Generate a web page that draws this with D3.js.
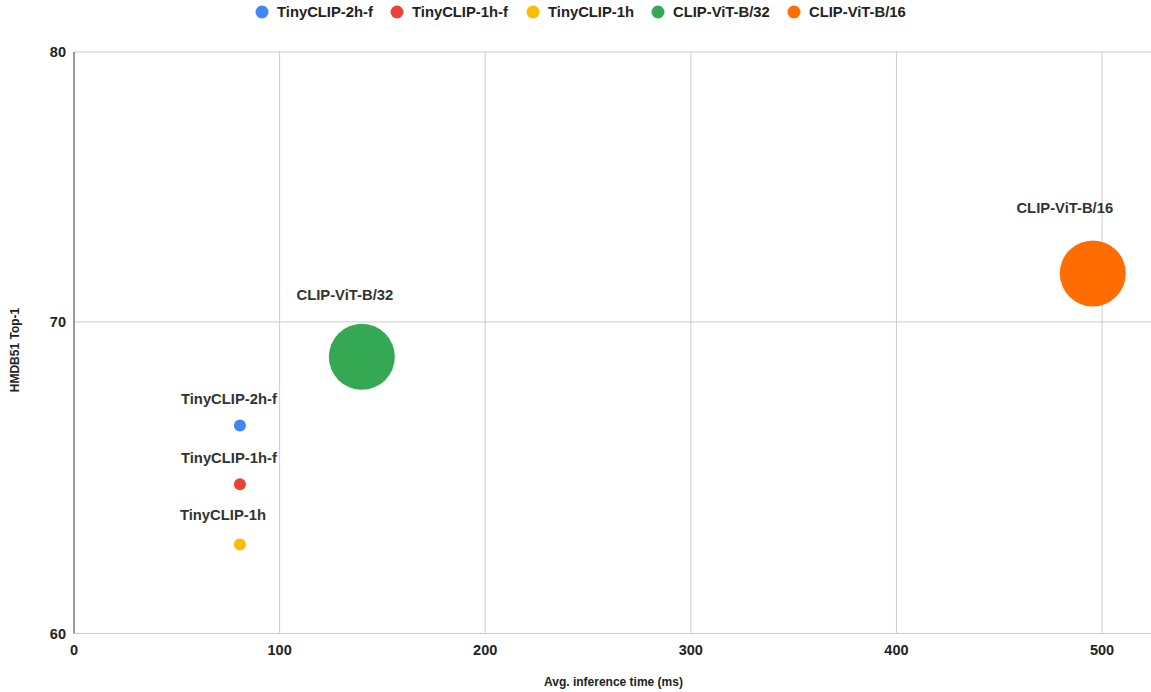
<!DOCTYPE html>
<html>
<head>
<meta charset="utf-8">
<script src="https://cdn.jsdelivr.net/npm/d3@7"></script>
<style>
  body { margin: 0; background: #fff; }
  text { font-family: "Liberation Sans", Arial, sans-serif; }
</style>
</head>
<body>
<svg width="1151" height="692"></svg>
<script>
var models = ["TinyCLIP-2h-f", "TinyCLIP-1h-f", "TinyCLIP-1h", "CLIP-ViT-B/32", "CLIP-ViT-B/16"];
var inferenceMs = [80.7, 80.7, 80.7, 140, 495.5];
var top1 = [66.5, 64.6, 62.7, 68.8, 71.7];
var sizes = [8, 8, 8, 88, 88];
var colors = ["#4285f4", "#ea4335", "#fbbc04", "#34a853", "#ff6d01"];
var xTicks = [0, 100, 200, 300, 400, 500];
var yTicks = [60, 70, 80];
// label placement relative to bubble centre
var labelDx = [-11, -11, -17, -17, -28];
var labelDy = [-22, -21, -25, -57, -60];

var svg = d3.select("svg"),
    width = +svg.attr("width"),
    height = +svg.attr("height");

var margin = {left: 74, right: 0, top: 52, bottom: 58.5};

var x = d3.scaleLinear()
    .domain([0, 523.8])
    .range([margin.left, width - margin.right]);

var y = d3.scaleLog()
    .domain([60, 80])
    .range([height - margin.bottom, margin.top]);

var r = d3.scaleLinear()
    .domain([d3.min(sizes), d3.max(sizes)])
    .range([6, 33]);

// grid
svg.append("g")
  .selectAll("line")
  .data(xTicks.slice(1))
  .enter().append("line")
    .attr("x1", d => x(d)).attr("x2", d => x(d))
    .attr("y1", y(80)).attr("y2", y(60))
    .attr("stroke", "#cccccc");

svg.append("g")
  .selectAll("line")
  .data(yTicks)
  .enter().append("line")
    .attr("x1", margin.left).attr("x2", width)
    .attr("y1", d => y(d)).attr("y2", d => y(d))
    .attr("stroke", "#cccccc");

// left axis line
svg.append("line")
    .attr("x1", margin.left).attr("x2", margin.left)
    .attr("y1", y(80)).attr("y2", y(60))
    .attr("stroke", "#333333");

// tick labels
svg.append("g")
  .selectAll("text")
  .data(yTicks)
  .enter().append("text")
    .attr("x", margin.left - 8)
    .attr("y", d => y(d) + 5)
    .attr("text-anchor", "end")
    .attr("font-size", 14.5)
    .attr("font-weight", "bold")
    .attr("fill", "#222")
    .text(d => d);

svg.append("g")
  .selectAll("text")
  .data(xTicks)
  .enter().append("text")
    .attr("x", d => x(d))
    .attr("y", y(60) + 21)
    .attr("text-anchor", "middle")
    .attr("font-size", 14.5)
    .attr("font-weight", "bold")
    .attr("fill", "#222")
    .text(d => d);

// axis titles
svg.append("text")
    .attr("x", (margin.left + width) / 2 + 1)
    .attr("y", 686)
    .attr("text-anchor", "middle")
    .attr("font-size", 12)
    .attr("font-weight", "bold")
    .attr("fill", "#222")
    .text("Avg. inference time (ms)");

svg.append("text")
    .attr("transform", "translate(19," + 350 + ") rotate(-90)")
    .attr("text-anchor", "middle")
    .attr("font-size", 12)
    .attr("font-weight", "bold")
    .attr("fill", "#222")
    .text("HMDB51 Top-1");

var data = models.map((m, i) => ({
  name: m, x: inferenceMs[i], y: top1[i], size: sizes[i], color: colors[i],
  dx: labelDx[i], dy: labelDy[i]
}));

// bubbles
svg.append("g")
  .selectAll("circle")
  .data(data)
  .enter().append("circle")
    .attr("cx", d => x(d.x))
    .attr("cy", d => y(d.y))
    .attr("r", d => r(d.size))
    .attr("fill", d => d.color);

// bubble labels
svg.append("g")
  .selectAll("text")
  .data(data)
  .enter().append("text")
    .attr("x", d => x(d.x) + d.dx)
    .attr("y", d => y(d.y) + d.dy)
    .attr("text-anchor", "middle")
    .attr("font-size", 14.8)
    .attr("font-weight", "bold")
    .attr("fill", "#333")
    .text(d => d.name);

// legend
var legendX = [262, 397, 533, 658, 794];
var legend = svg.append("g")
  .selectAll("g")
  .data(data)
  .enter().append("g")
    .attr("transform", (d, i) => "translate(" + legendX[i] + ",12)");

legend.append("circle")
    .attr("r", 6.5)
    .attr("fill", d => d.color);

legend.append("text")
    .attr("x", 15)
    .attr("y", 5)
    .attr("font-size", 14.8)
    .attr("font-weight", "bold")
    .attr("fill", "#222")
    .text(d => d.name);
</script>
</body>
</html>
